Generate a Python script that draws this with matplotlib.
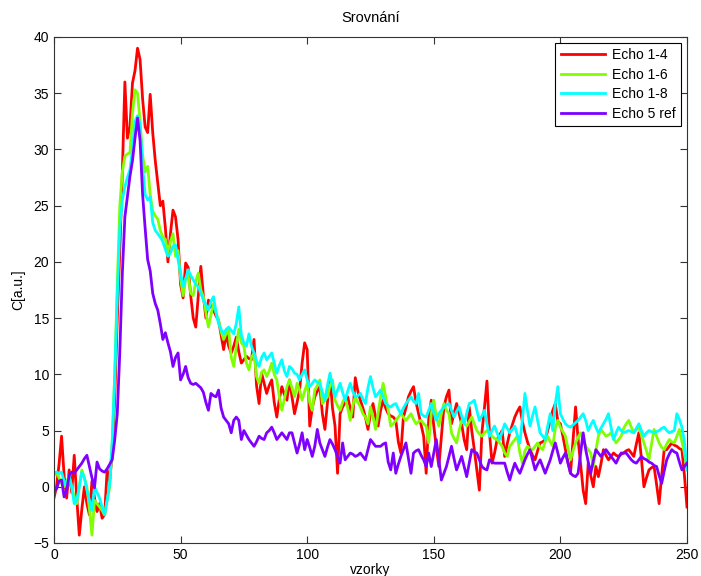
import numpy as np
import matplotlib
matplotlib.use("Agg")
import matplotlib.pyplot as plt

# odectene hodnoty z obrazku (vzorky 0..250)
echo_1_4 = [
    -1, 0, 2, 4.5, 1, -1, 1.5, -0.5, 2.8, -1,
    -4.3, -2, 0, -1.5, -2.5, 0.5, -1, -2.2, -1.5, -2.8,
    -2.5, 1.5, 0.5, 3, 8, 15, 21, 28, 36, 31,
    32, 35.9, 37, 39, 38, 34.5, 32, 31.5, 34.9, 31.5,
    29, 27, 25, 25.4, 23, 20, 22.5, 24.6, 24, 22,
    18, 16.8, 19.9, 19.5, 17, 15, 14.2, 17, 19.6, 17,
    15, 16.6, 16, 15.7, 15.2, 14.8, 13.5, 12.2, 13.6, 12.5,
    11.9, 12.5, 13.3, 12, 11, 11.3, 11.6, 11.4, 11.3, 13.1,
    9, 7.4, 10.1, 9.2, 8.3, 9, 9.5, 7.5, 6.2, 7.8,
    8.9, 8.2, 7.7, 9.5, 8, 6.5, 7.5, 8.6, 11, 12.8,
    12.2, 5.4, 7, 8, 8.5, 8.9, 6.5, 5.1, 7.5, 9.8,
    7, 5.4, 1.2, 6.5, 7.1, 7.5, 8, 7, 6.2, 9.7,
    8.5, 7.7, 7, 6.2, 5.1, 6.5, 7.4, 6.2, 5.4, 6.8,
    7.7, 7, 6.5, 6.3, 6.2, 5.9, 4, 3, 6.2, 7,
    8, 8.5, 8.9, 7.5, 6.5, 5.5, 4.5, 1.2, 6, 7.7,
    5.4, 3.5, 1.8, 4.5, 7.1, 8, 8.6, 5.6, 6.5, 7.4,
    6.5, 5.6, 4.2, 3.3, 7.1, 5, 3.3, 1.5, -0.3, 4.8,
    7, 9.4, 4.8, 2.1, 3, 4.2, 4.6, 5, 2.7, 3.8,
    4.8, 5.5, 6.2, 6.7, 7.1, 5.8, 4.8, 4, 3.3, 2.8,
    2.4, 3.2, 3.9, 4, 4.2, 5, 5.9, 6.8, 7.4, 5.8,
    5.6, 4.5, 3.3, 2.2, 1.2, 4.2, 7.1, 4.2, 2, -0.3,
    -1.5, 2.1, 1, 0, 1.8, 0.9, 2, 3.3, 2.8, 2.4,
    2.7, 3, 2.8, 2.7, 2.9, 3, 3.2, 3.3, 3, 2.7,
    3.8, 4.8, 2.5, 0, 0.8, 1.5, 1.7, 1.8, 0.2, -1.5,
    1, 3.3, 3.3, 3.6, 3.9, 3.7, 3.6, 3.4, 3.3, 1,
    -1.8,
]
echo_1_6 = [
    1, 1.3, 0.8, 0.3, 0, 0.5, 0.9, 0, -0.9, -1.5,
    0, 1.5, 0.8, 0, -2, -4.3, -1.2, -1.5, -1.8, -2.1,
    -2.5, -1.2, 0, 4, 10, 18, 25, 28, 29.4, 29.6,
    29.7, 33.2, 35.3, 35, 32.5, 29.5, 28, 28.5, 26, 24.5,
    24.1, 23.8, 22.8, 22.2, 22, 20.9, 21.8, 22.5, 20.5, 21,
    18.5, 17, 18.5, 18.8, 17.2, 17, 18.3, 19, 17.5, 16.9,
    15.5, 14.2, 15.3, 16.3, 15.5, 14.8, 13.8, 13.1, 13.6, 14,
    11.5, 10.7, 12.5, 14, 12.8, 12.5, 11, 10.4, 11.5, 11.9,
    9.8, 9.2, 10.2, 10.4, 9.8, 10.3, 11, 10, 9.5, 8,
    6.8, 7.8, 8.9, 9.5, 8.8, 8, 9.2, 8.6, 7.7, 8.5,
    9.2, 7.5, 6.8, 8.6, 9, 9.5, 7.4, 7.7, 8, 9,
    9.5, 7.7, 7.2, 6.8, 7.5, 8, 7, 5.9, 7.2, 8,
    7.5, 7.1, 6.5, 6.2, 5.6, 7.1, 6.2, 5.1, 6.5, 8,
    9.2, 8, 6.8, 5.4, 5.6, 5.9, 6.2, 6.5, 6.2, 5.9,
    6.2, 6.5, 6, 5.6, 5.8, 5.9, 5.6, 5.4, 3.9, 6.5,
    7.7, 6.2, 5.4, 6.5, 7.4, 6.8, 6.5, 4.8, 4.3, 3.9,
    5, 5.9, 5.6, 5.4, 5.8, 6.2, 5.6, 5, 4.7, 4.5,
    4.8, 5, 4.8, 4.5, 4.3, 4.2, 3.9, 3.6, 3, 2.7,
    3.6, 3.9, 4.2, 4.5, 3, 2.1, 3.2, 3.6, 3.4, 3.3,
    3.6, 3.9, 3.5, 3.3, 4, 4.5, 4, 3.6, 5.2, 5.9,
    5.3, 4.9, 4.5, 3.4, 2.4, 3.2, 3.9, 4.4, 4.8, 4.2,
    3.6, 3.3, 3, 1.8, 3.2, 4.5, 5.1, 4.8, 4.5, 4.6,
    4.8, 4.3, 3.9, 4.2, 4.5, 5.2, 5.6, 5.9, 5.3, 4.8,
    5.1, 5.3, 4.6, 3.9, 3.2, 2.4, 3.8, 5.1, 4.5, 3.9,
    3.5, 3.3, 3.8, 4.2, 4, 3.9, 4.5, 5.1, 4, 3,
    1.5,
]
echo_1_8 = [
    1.2, 1.3, 1.2, 1.3, 0.5, 0, 1, 0, -1.5, -1.2,
    0, 1.3, 0.8, -0.3, -1.2, -2.1, 0, -0.5, -1, -1.8,
    -2.5, -1.2, 0.3, 4, 10, 17, 23, 25.5, 26.7, 27.5,
    28.2, 30, 32.5, 33, 32.3, 28.5, 26, 25.5, 25.8, 23.5,
    22.8, 22.5, 22.2, 21.8, 21.1, 20.5, 20.8, 21.4, 21.5, 20.2,
    19, 17.8, 18.5, 19.3, 18.8, 18.4, 18, 17.8, 17.2, 16.6,
    16.2, 15.7, 16.5, 16.9, 15.5, 14.5, 14, 13.6, 14, 14.2,
    13.9, 13.6, 14.5, 16, 13.5, 12.8, 12.5, 13.6, 12.5, 11.9,
    11.2, 10.7, 11.5, 11.9, 11.3, 11.6, 11.9, 11, 10.1, 10.8,
    11.3, 10.3, 9.8, 10.7, 10.5, 10.1, 10, 9.5, 10, 10.4,
    9.5, 8.9, 9.2, 9.5, 9.3, 9.2, 8.4, 7.7, 9, 10.1,
    9, 8, 8.6, 9.2, 8.4, 7.7, 8.5, 9.2, 8.5, 8,
    8.1, 8.3, 7.8, 7.4, 8.8, 9.8, 8.8, 8, 8.3, 8.6,
    8, 7.4, 7.2, 7.1, 7.3, 7.4, 6.9, 6.5, 7, 7.4,
    7.7, 8, 7.6, 7.4, 8.3, 6.5, 6.3, 6.2, 6.8, 7.4,
    6.6, 5.9, 6.5, 6.8, 7.1, 7.3, 7.4, 6.8, 6.2, 6.7,
    7.1, 6.3, 5.6, 6.5, 7.4, 7.5, 7.7, 6.8, 5.9, 6.3,
    6.8, 5.6, 4.5, 5, 5.4, 4.8, 4.2, 4.9, 5.6, 5.2,
    4.8, 5.1, 5.4, 4.6, 3.9, 6, 8.3, 6.8, 5.4, 6.3,
    7.1, 5.9, 4.8, 4.5, 4.2, 5.4, 6.5, 5, 7.4, 8.9,
    6.5, 6, 5.6, 5.4, 5.3, 5.5, 5.7, 5.9, 6.2, 6.5,
    5.9, 5, 5.5, 5.9, 5.3, 4.8, 5.2, 5.6, 6, 6.5,
    5.3, 4.2, 4.8, 5.3, 5, 4.8, 4.9, 5, 4.9, 4.8,
    5.2, 5.6, 5, 4.5, 4.8, 5, 4.9, 4.8, 4.9, 5,
    5.2, 5.3, 5, 4.8, 4.9, 5, 6.5, 6, 5.3, 4,
    1.5,
]
echo_5_ref = [
    -0.4, -0.2, 0.5, 0.6, -0.9, -0.3, 1, 1.3, 1.2, 1.5,
    1.8, 2.1, 2.5, 2.8, 1.8, 0.8, -0.1, 2.2, 1.6, 1.4,
    1.3, 1.6, 2, 2.4, 4.2, 6.5, 12, 19, 24, 25.8,
    27.6, 29, 31, 32.8, 30.8, 26, 23, 20.2, 19.2, 17.2,
    16.3, 15.7, 14.5, 13.1, 13.7, 12.8, 12, 10.7, 11.5, 11.9,
    9.5, 10, 10.7, 9.7, 9.2, 9.1, 9.2, 9, 8.8, 8.4,
    7.5, 6.8, 8.3, 8.1, 8, 8.6, 7, 6.2, 5.9, 5.6,
    4.8, 5.9, 6.2, 5.9, 4.2, 5, 4.6, 4.2, 3.9, 3.6,
    4, 4.5, 4.3, 4.2, 4.8, 5, 5.3, 4.8, 4.2, 4.5,
    4.8, 4.5, 4.2, 4.8, 4.8, 3.9, 3, 3.8, 4.8, 3.3,
    4.2, 3.5, 2.7, 3.6, 5.1, 3.9, 3.3, 2.7, 3.5, 4.2,
    3.8, 3.3, 2.7, 2.1, 3.9, 2.4, 2.7, 3, 2.9, 2.7,
    2.8, 3, 2.7, 2.4, 3.3, 4.2, 3.9, 3.6, 3.6, 3.6,
    3.8, 3.9, 2.2, 1.5, 3, 1.2, 2, 2.7, 3.3, 3.9,
    2.5, 1.2, 3, 3.2, 3.3, 2.8, 2.4, 1.8, 3, 1.8,
    3, 4.2, 2.4, 0.6, 1.2, 1.8, 2.7, 3.6, 2.5, 1.5,
    2.1, 2.7, 1.8, 0.9, 2.1, 3.3, 3.1, 3, 2.4, 1.8,
    1.6, 1.5, 2.4, 2.2, 2.1, 2.1, 2.1, 2.1, 2.1, 1.3,
    0.6, 1.4, 2.1, 1.6, 1.2, 1.8, 2.4, 2.9, 3.3, 2.4,
    1.5, 2, 2.4, 1.8, 1.2, 1.8, 2.4, 3.2, 3.9, 3,
    2.1, 2.6, 3, 2.1, 1.2, 1, 0.9, 1.2, 3, 4.8,
    3.3, 2.2, 1.2, 2.3, 3.3, 3, 2.7, 3, 3.3, 3,
    2.7, 2.4, 2.1, 2.6, 3, 3, 3, 2.7, 2.4, 2.2,
    2.1, 2.4, 2.7, 2.5, 2.4, 2.2, 2.1, 1.9, 1.8, 1,
    0.3, 1.4, 2.4, 2.9, 3.3, 3.1, 3, 2.2, 1.5, 1.8,
    2.1,
]
nazvy = ["Echo 1-4", "Echo 1-6", "Echo 1-8", "Echo 5 ref"]
barvy = ["#ff0000", "#80ff00", "#00ffff", "#8000ff"]
x_ticks = [0, 50, 100, 150, 200, 250]
y_ticks = [-5, 0, 5, 10, 15, 20, 25, 30, 35, 40]

plt.rcParams["font.family"] = ["Liberation Sans", "DejaVu Sans"]
plt.rcParams["font.size"] = 10

fig = plt.figure(figsize=(7.01, 5.76), dpi=100)
ax = fig.add_axes([0.077, 0.0573, 0.903, 0.8785])

vzorky = np.arange(len(echo_1_4))
for data, nazev, barva in zip([echo_1_4, echo_1_6, echo_1_8, echo_5_ref], nazvy, barvy):
    ax.plot(vzorky, data, color=barva, linewidth=2, label=nazev)

ax.set_xlim(0, 250)
ax.set_ylim(-5, 40)
ax.set_xticks(x_ticks)
ax.set_yticks(y_ticks)
ax.tick_params(direction="in", top=True, right=True, length=5, width=0.8,
               colors="#333333", labelcolor="black", labelsize=10)
for s in ax.spines.values():
    s.set_color("#333333")
    s.set_linewidth(0.8)

ax.set_title("Srovnání", fontsize=10.5, pad=11)
# v originale je popisek osy x uriznuty dole, tady ho nechame cely
ax.set_xlabel("vzorky", fontsize=10, labelpad=1)
ax.set_ylabel("C[a.u.]", fontsize=10, labelpad=6)

leg = ax.legend(loc="upper right", fancybox=False, edgecolor="black",
                framealpha=1, borderaxespad=0.4, handlelength=3.2,
                handletextpad=0.5, labelspacing=0.4, fontsize=10)
leg.get_frame().set_linewidth(0.8)

plt.savefig("out.png", dpi=100)
